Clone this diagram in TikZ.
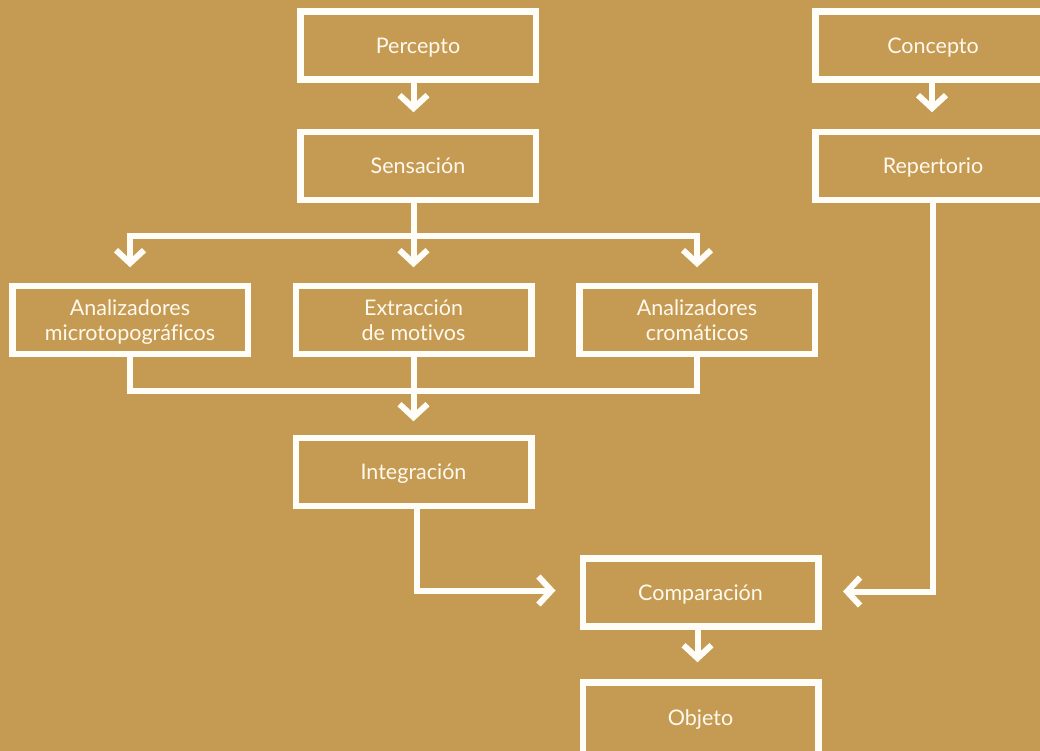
\documentclass[tikz,border=0pt]{standalone}
\usepackage{fontspec}
\setmainfont{Lato}[Ligatures=NoCommon]
\usetikzlibrary{arrows.meta}
\definecolor{bg}{RGB}{197,155,83}
\definecolor{ln}{RGB}{255,253,248}
\definecolor{tx}{RGB}{255,249,238}
\tikzset{
  box/.style={draw=ln, line width=6.5pt, minimum width=235.5pt, minimum height=68pt,
    inner sep=0pt, text=tx, align=center, text depth=0pt,
    font=\fontsize{21.5}{25}\selectfont},
  conn/.style={draw=ln, line width=6pt, line join=miter, line cap=butt},
  arr/.style={conn, -{Straight Barb[length=13pt, width=28pt]}},
  arrboth/.style={conn, {Straight Barb[length=13pt, width=28pt]}-{Straight Barb[length=13pt, width=28pt]}},
}
\begin{document}
\begin{tikzpicture}[x=1pt, y=-1pt]
\useasboundingbox (0,0) rectangle (1040,751);
\fill[bg] (0,0) rectangle (1040,751);
\clip (0,0) rectangle (1040,751);

\node[box] (perc) at (418,45.5) {Percepto};
\node[box] (sens) at (418,166) {Sensación};
\node[box] (conc) at (933,45.5) {Concepto};
\node[box] (rep) at (933,166) {Repertorio};
\node[box] (micro) at (130,320) {Analizadores\\microtopográficos};
\node[box] (extr) at (413.5,320) {Extracción\\de motivos};
\node[box] (crom) at (697,320) {Analizadores\\cromáticos};
\node[box] (integ) at (413.5,472) {Integración};
\node[box] (comp) at (700.5,592.5) {Comparación};
\node[box, minimum height=89.5pt, text depth=19.5pt] (obj) at (700.5,727.25) {Objeto};

\coordinate (bsplit) at (413.5,235.5);
\coordinate (mjoin) at (413.5,390.5);

% top arrows
\draw[arr, shorten >=16.5pt] ([xshift=-4.5pt]perc.south) -- ([xshift=-4.5pt]sens.north);
\draw[arr, shorten >=16.5pt] ([xshift=-1pt]conc.south) -- ([xshift=-1pt]rep.north);

% split
\draw[conn] ([xshift=-4.5pt]sens.south) -- (bsplit);
\draw[arrboth, shorten <=15.5pt, shorten >=15.5pt] (micro.north) -- (micro.north |- bsplit) -- (crom.north |- bsplit) -- (crom.north);
\draw[arr, shorten >=15.5pt] (bsplit) -- (extr.north);

% merge
\draw[conn] (micro.south) -- (micro.south |- mjoin) -- (crom.south |- mjoin) -- (crom.south);
\draw[arr, shorten >=13.5pt] (extr.south) -- (integ.north);

% to comparison
\draw[arr, shorten >=24pt] ([xshift=3pt]integ.south) |- ([yshift=2pt]comp.west);
\draw[arr, shorten >=21.5pt] (rep.south) |- ([yshift=1pt]comp.east);
\draw[arr, shorten >=17pt] ([xshift=-3pt]comp.south) -- ([xshift=-3pt]obj.north);
\end{tikzpicture}
\end{document}
